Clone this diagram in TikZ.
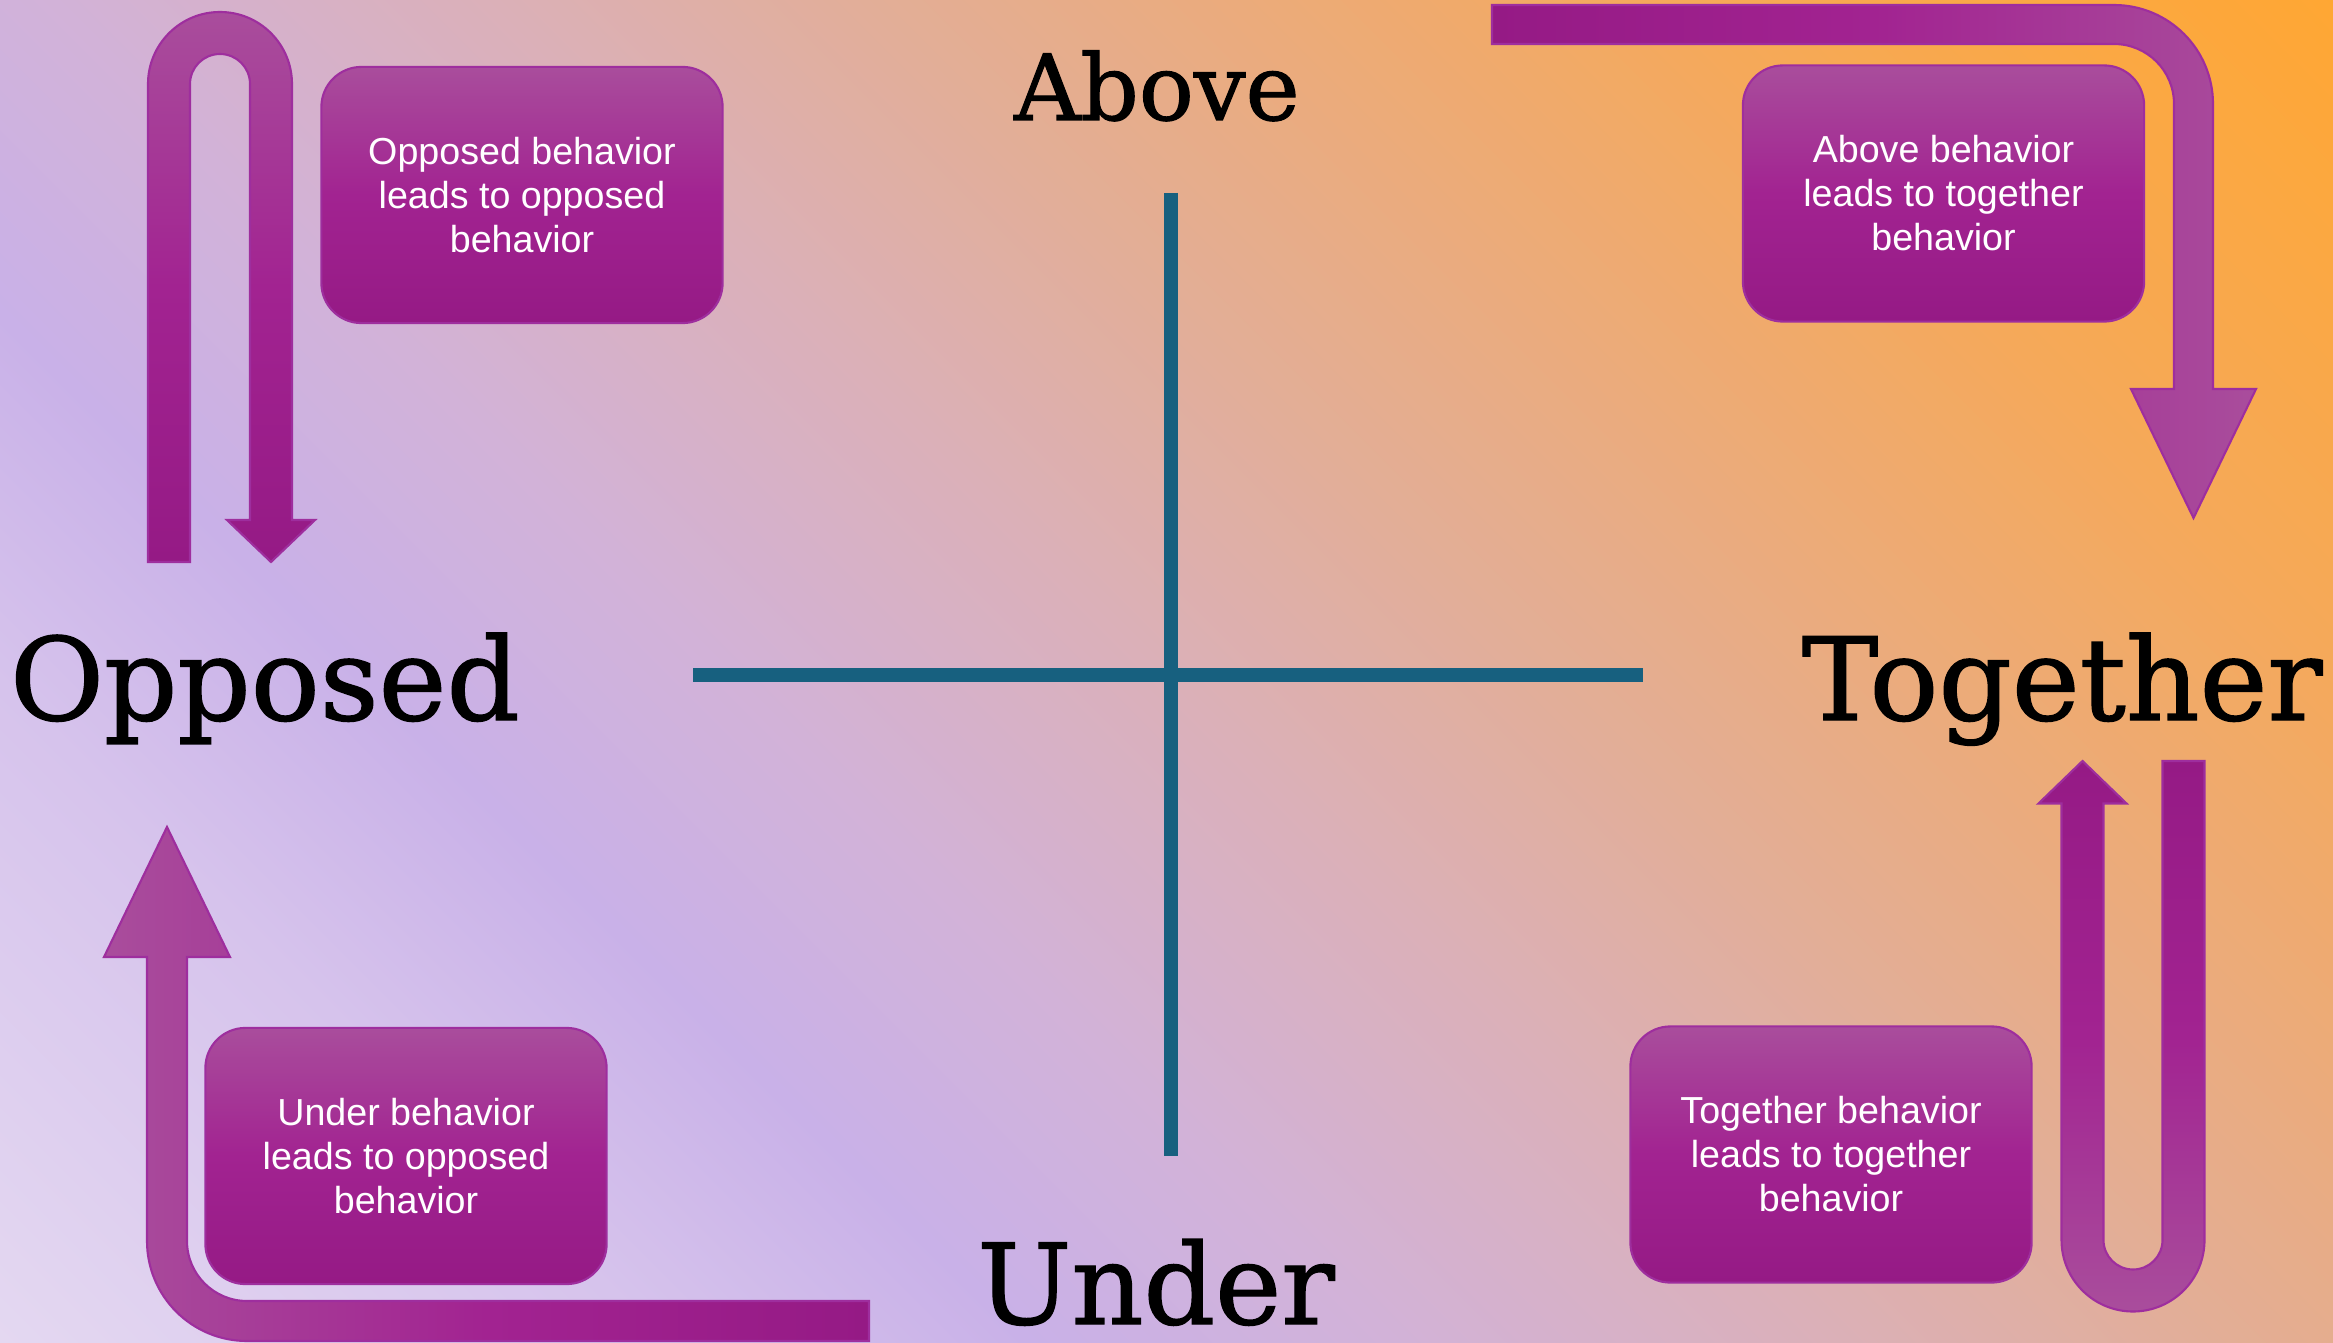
\documentclass[tikz,border=0pt]{standalone}
\usepackage{fontspec}
\setmainfont{DejaVu Serif}
\setsansfont{Liberation Sans}
\newfontfamily\headfont[FakeBold=1.2]{DejaVu Serif}
\definecolor{plight}{HTML}{A94D9C}
\definecolor{pmid}{HTML}{A22391}
\definecolor{pdark}{HTML}{951A85}
\definecolor{pedge}{HTML}{9E2E9E}
\definecolor{axisblue}{HTML}{17607F}
\definecolor{bg0}{HTML}{E4D8F1}
\definecolor{bg1}{HTML}{D6C3EC}
\definecolor{bg2}{HTML}{C9B1E8}
\definecolor{bg3}{HTML}{D2B2D8}
\definecolor{bg4}{HTML}{DBB0B8}
\definecolor{bg5}{HTML}{E2AE98}
\definecolor{bg6}{HTML}{EBAB7C}
\definecolor{bg7}{HTML}{F5A95A}
\definecolor{bg8}{HTML}{FFA733}
\pgfdeclarehorizontalshading{bgsh}{100bp}{color(0bp)=(bg0); color(25bp)=(bg0); color(34bp)=(bg1); color(39bp)=(bg2); color(44bp)=(bg3); color(50bp)=(bg4); color(55bp)=(bg5); color(60bp)=(bg6); color(66bp)=(bg7); color(75bp)=(bg8); color(100bp)=(bg8)}
\begin{document}
\begin{tikzpicture}[x=0.01cm,y=-0.01cm,
  arrowshape/.style={draw=pedge, line width=0.6pt, line join=miter},
  info/.style={rounded corners=0.4cm, draw=pedge, line width=0.6pt,
    top color=plight, bottom color=pdark, middle color=pmid,
    minimum width=4.01cm, minimum height=2.56cm, inner sep=0pt,
    text=white, align=center, font=\sffamily\fontsize{10.7}{12.5}\selectfont},
  quad/.style={inner sep=0pt, anchor=base, text=black, font=\headfont\fontsize{32.6}{36}\selectfont},
  quadsmall/.style={inner sep=0pt, anchor=base, text=black, font=\headfont\fontsize{26}{30}\selectfont},
  axisline/.style={draw=axisblue, line width=0.133cm}]
\useasboundingbox (0,0) rectangle (2333,1343);
% background
\begin{scope}
\clip (0,0) rectangle (2333,1343);
\begin{scope}[transform canvas={rotate around={45:(1166.5,671.5)}}]
\shade[shading=bgsh] (-133.5,-728.5) rectangle (2466.5,2071.5);
\end{scope}
\end{scope}
% axes
\coordinate (vt) at (1171,193);
\coordinate (vb) at (1171,1156);
\coordinate (hl) at (693,675);
\coordinate (hr) at (1643,675);
\draw[axisline] (vt) -- (vb);
\draw[axisline] (hl) -- (hr);
% arrows
\path[arrowshape, top color=plight, bottom color=pdark, middle color=pmid]
 (148,562) -- (148,84) arc[start angle=180, end angle=360, radius=72] -- (292,520) -- (315,520) -- (271,562) -- (227,520) -- (250,520) -- (250,84) arc[start angle=360, end angle=180, radius=30] -- (190,562) -- cycle;
\path[arrowshape, left color=pdark, right color=plight, middle color=pmid]
 (1492,5) -- (2114,5) arc[start angle=270, end angle=360, radius=99] -- (2213,389) -- (2256,389) -- (2193.5,518) -- (2131,389) -- (2174,389) -- (2174,104) arc[start angle=360, end angle=270, radius=60] -- (1492,44) -- cycle;
\path[arrowshape, left color=plight, right color=pdark, middle color=pmid]
 (869,1341) -- (247,1341) arc[start angle=90, end angle=180, radius=100] -- (147,957) -- (104,957) -- (167,827) -- (230,957) -- (187,957) -- (187,1241) arc[start angle=180, end angle=90, radius=60] -- (869,1301) -- cycle;
\path[arrowshape, top color=pdark, bottom color=plight, middle color=pmid]
 (2204.5,761) -- (2204.5,1240) arc[start angle=0, end angle=180, radius=71.5] -- (2061.5,803.5) -- (2038.5,803.5) -- (2082.5,761) -- (2126.5,803.5) -- (2103.5,803.5) -- (2103.5,1240) arc[start angle=180, end angle=0, radius=29.5] -- (2162.5,761) -- cycle;
% boxes
\node[info] (b1) at (522,195) {Opposed behavior\\leads to opposed\\behavior};
\node[info] (b2) at (1943.5,193.5) {Above behavior\\leads to together\\behavior};
\node[info] (b3) at (406,1156) {Under behavior\\leads to opposed\\behavior};
\node[info] (b4) at (1831,1154.5) {Together behavior\\leads to together\\behavior};
% labels
\node[quadsmall] (above) at (1157,120) {Above};
\node[quad] (opposed) at (265,720) {Opposed};
\node[quad] (together) at (2062,720) {Together};
\node[quad, font=\headfont\fontsize{31.8}{35}\selectfont] (under) at (1156,1324) {Under};
\end{tikzpicture}
\end{document}
